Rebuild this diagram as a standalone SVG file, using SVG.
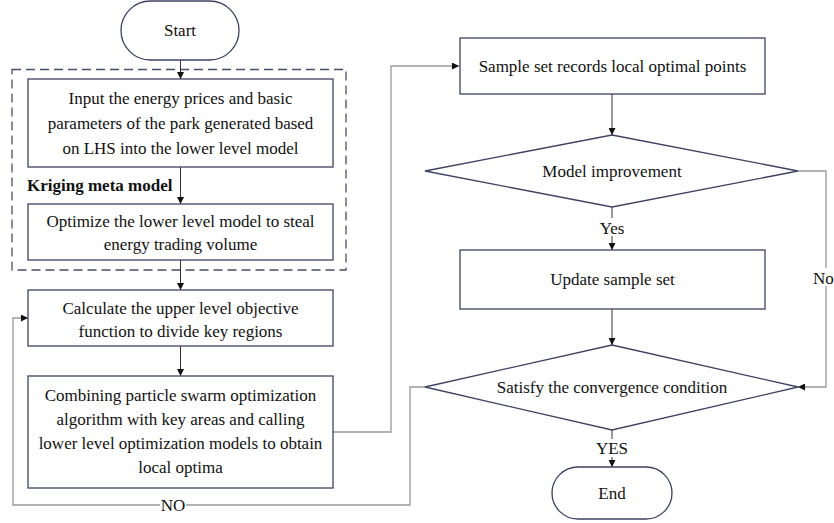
<svg xmlns="http://www.w3.org/2000/svg" width="834" height="523" viewBox="0 0 834 523" font-family="'Liberation Serif', 'DejaVu Serif', serif">
  <defs>
    <marker id="arrow" viewBox="0 0 10 10" refX="10" refY="5" markerWidth="7" markerHeight="7" orient="auto" markerUnits="userSpaceOnUse">
      <path d="M0,0 L10,5 L0,10 z" fill="#111"/>
    </marker>
    <style>
      .node { fill: #fff; stroke: #3d4263; stroke-width: 1.3; }
      .frame { fill: none; stroke: #4a4d6a; stroke-width: 1.3; stroke-dasharray: 9 5; }
      text { font-family: 'Liberation Serif', 'DejaVu Serif', serif; font-size: 17px; fill: #111; }
      .t { text-anchor: middle; }
      .tb { font-weight: bold; }
      .flow { fill: none; stroke: #333; stroke-width: 1; }
      .loop { fill: none; stroke: #999; stroke-width: 1.3; }
      .lbl { text-anchor: middle; }
    </style>
  </defs>

  <rect width="834" height="523" fill="#fff"/>

  <!-- Kriging meta model frame -->
  <rect class="frame" x="12" y="69.5" width="334" height="200.5"/>

  <!-- connectors -->
  <g id="connectors">
    <line class="flow" x1="180.5" y1="60" x2="180.5" y2="79" marker-end="url(#arrow)"/>
    <line class="flow" x1="180.5" y1="167" x2="180.5" y2="204" marker-end="url(#arrow)"/>
    <line class="flow" x1="180.5" y1="260" x2="180.5" y2="290" marker-end="url(#arrow)"/>
    <line class="flow" x1="180.5" y1="346" x2="180.5" y2="376" marker-end="url(#arrow)"/>
    <polyline class="loop" points="333,432 391,432 391,66 459,66" marker-end="url(#arrow)"/>
    <line class="flow" x1="612" y1="94" x2="612" y2="135" marker-end="url(#arrow)"/>
    <line class="flow" x1="612" y1="207" x2="612" y2="250" marker-end="url(#arrow)"/>
    <line class="flow" x1="612" y1="309" x2="612" y2="345" marker-end="url(#arrow)"/>
    <line class="flow" x1="612" y1="430" x2="612" y2="467" marker-end="url(#arrow)"/>
    <polyline class="loop" points="798,171 826,171 826,387 798,387" marker-end="url(#arrow)"/>
    <polyline class="loop" points="425,387 410,387 410,505 13,505 13,318 28,318" marker-end="url(#arrow)"/>
  </g>

  <!-- connector labels -->
  <g id="labels">
    <rect x="600" y="218" width="24" height="18" fill="#fff"/>
    <text class="lbl" x="612" y="234">Yes</text>
    <rect x="598" y="439" width="28" height="18" fill="#fff"/>
    <text class="lbl" x="612" y="454">YES</text>
    <rect x="160" y="496" width="26" height="18" fill="#fff"/>
    <text class="lbl" x="173" y="511">NO</text>
    <rect x="813" y="268" width="21" height="18" fill="#fff"/>
    <text x="813" y="284" font-size="16">No</text>
  </g>

  <g id="start">
    <rect class="node" x="121" y="1" width="118" height="59" rx="29.5"/>
    <text class="t" x="180" y="36">Start</text>
  </g>

  <g id="input-params">
    <rect class="node" x="28" y="79" width="305" height="88"/>
    <text class="t" x="180.5" y="104">Input the energy prices and basic</text>
    <text class="t" x="180.5" y="129">parameters of the park generated based</text>
    <text class="t" x="180.5" y="154">on LHS into the lower level model</text>
  </g>

  <g id="kriging-label">
    <text class="tb" x="27" y="191">Kriging meta model</text>
  </g>

  <g id="optimize-lower">
    <rect class="node" x="28" y="204" width="305" height="56"/>
    <text class="t" x="180.5" y="227">Optimize the lower level model to steal</text>
    <text class="t" x="180.5" y="250">energy trading volume</text>
  </g>

  <g id="upper-objective">
    <rect class="node" x="28" y="290" width="305" height="56"/>
    <text class="t" x="180.5" y="314">Calculate the upper level objective</text>
    <text class="t" x="180.5" y="337">function to divide key regions</text>
  </g>

  <g id="pso">
    <rect class="node" x="28" y="376" width="305" height="112"/>
    <text class="t" x="180.5" y="401">Combining particle swarm optimization</text>
    <text class="t" x="180.5" y="425">algorithm with key areas and calling</text>
    <text class="t" x="180.5" y="449">lower level optimization models to obtain</text>
    <text class="t" x="180.5" y="473">local optima</text>
  </g>

  <g id="sample-records">
    <rect class="node" x="460" y="38" width="305" height="56"/>
    <text class="t" x="612.5" y="72">Sample set records local optimal points</text>
  </g>

  <g id="model-improvement">
    <polygon class="node" points="612,135 798,171 612,207 425,171"/>
    <text class="t" x="612" y="177">Model improvement</text>
  </g>

  <g id="update-sample">
    <rect class="node" x="460" y="250" width="305" height="59"/>
    <text class="t" x="612.5" y="285">Update sample set</text>
  </g>

  <g id="convergence">
    <polygon class="node" points="612,345 798,387 612,430 425,387"/>
    <text class="t" x="612" y="393">Satisfy the convergence condition</text>
  </g>

  <g id="end">
    <rect class="node" x="552" y="467" width="120" height="52" rx="26"/>
    <text class="t" x="612" y="499">End</text>
  </g>
</svg>
